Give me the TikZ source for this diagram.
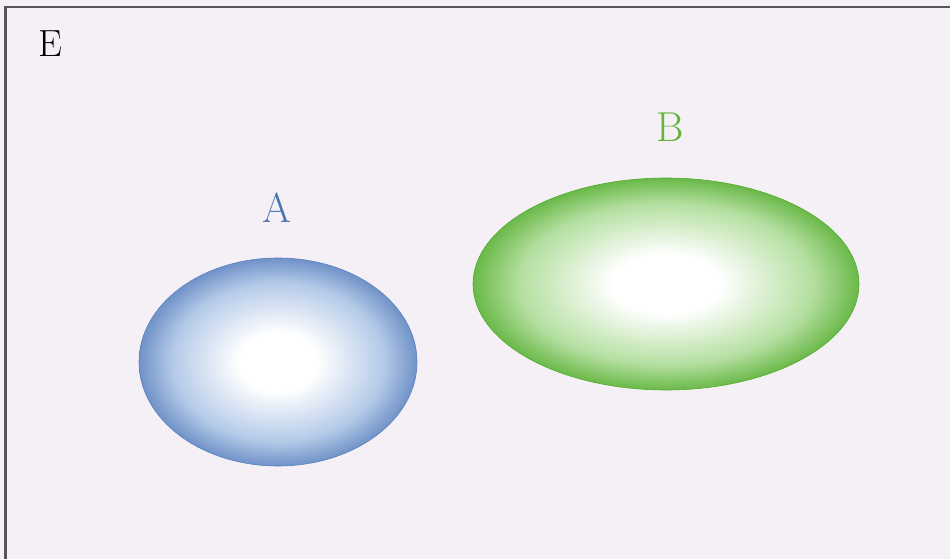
\documentclass[tikz,border=0pt]{standalone}
\usetikzlibrary{shapes.geometric}
\definecolor{bgc}{HTML}{F4F0F5}
\definecolor{framec}{HTML}{5A5456}
\definecolor{blueedge}{HTML}{5A80BD}
\definecolor{bluemid}{HTML}{B4CAE8}
\definecolor{greenedge}{HTML}{52AC2C}
\definecolor{greenmid}{HTML}{B4DFA0}
\definecolor{labA}{HTML}{4B74B2}
\definecolor{labB}{HTML}{67B43C}
\pgfdeclareradialshading{shadeA}{\pgfpoint{0bp}{0bp}}{color(0bp)=(white); color(7bp)=(white); color(19bp)=(bluemid); color(27bp)=(blueedge); color(50bp)=(blueedge)}
\pgfdeclareradialshading{shadeB}{\pgfpoint{0bp}{0bp}}{color(0bp)=(white); color(7bp)=(white); color(19bp)=(greenmid); color(27bp)=(greenedge); color(50bp)=(greenedge)}
\tikzset{
  lab/.style={font=\fontsize{38}{40}\selectfont, inner sep=0pt, anchor=base},
  setlab/.style={font=\fontsize{42}{44}\selectfont, inner sep=0pt, anchor=base},
  setA/.style={ellipse, inner sep=0pt, minimum width=278bp, minimum height=208bp, shading=shadeA, draw=blueedge, line width=0.6bp},
  setB/.style={ellipse, inner sep=0pt, minimum width=386bp, minimum height=212bp, shading=shadeB, draw=greenedge, line width=0.6bp},
}
\begin{document}
\begin{tikzpicture}[x=1bp,y=-1bp]
\useasboundingbox (0,0) rectangle (950,559);
\fill[bgc] (0,0) rectangle (950,559);
\draw[framec, line width=2.5bp] (5.5,559) -- (5.5,7) -- (950,7);
\node[lab, text=black] (E) at (50,57) {E};
\node[setA] (A) at (278,362) {};
\node[setB] (B) at (666,284) {};
\node[setlab, text=labA] (labelA) at (277,223) {A};
\node[setlab, text=labB] (labelB) at (670,142) {B};
\end{tikzpicture}
\end{document}
